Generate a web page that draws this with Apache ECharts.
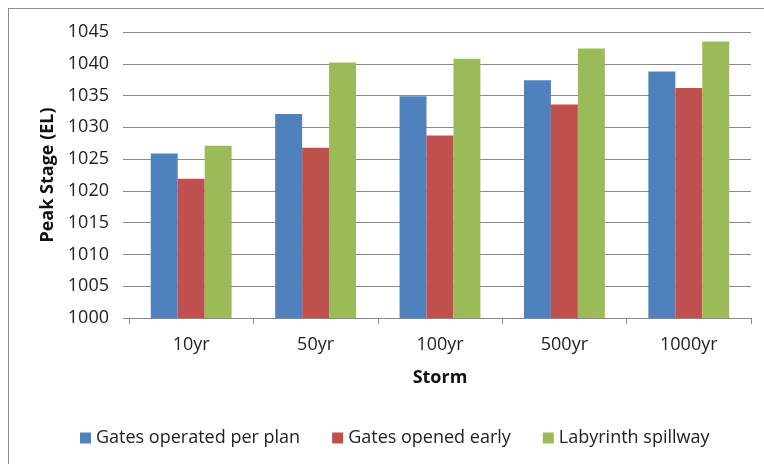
<!DOCTYPE html>
<html>
<head>
<meta charset="utf-8">
<script src="https://cdn.jsdelivr.net/npm/echarts@6/dist/echarts.min.js"></script>
<style>
  html, body { margin: 0; padding: 0; background: #fff; }
  #chart { width: 764px; height: 464px; }
</style>
</head>
<body>
<div id="chart"></div>
<script>
// Peak stage per design storm for three spillway operating scenarios
const storms = ['10yr', '50yr', '100yr', '500yr', '1000yr'];
const gatesPerPlan = [1025.9, 1032.1, 1034.9, 1037.4, 1038.8];
const gatesOpenedEarly = [1021.9, 1026.8, 1028.7, 1033.6, 1036.2];
const labyrinthSpillway = [1027.1, 1040.2, 1040.8, 1042.4, 1043.5];
const seriesNames = ['Gates operated per plan', 'Gates opened early', 'Labyrinth spillway'];
const seriesColors = ['#4F81BD', '#C0504D', '#9BBB59'];

const FONT = 'Open Sans';
const gridColor = '#8a8a8a';

const chart = echarts.init(document.getElementById('chart'), null, { renderer: 'canvas' });

const seriesData = [gatesPerPlan, gatesOpenedEarly, labyrinthSpillway];

chart.setOption({
  backgroundColor: '#fff',
  animation: false,
  textStyle: { fontFamily: FONT },
  graphic: [
    { type: 'line', shape: { x1: 8, y1: 8.5, x2: 764, y2: 8.5 }, style: { stroke: '#8c8c8c', lineWidth: 1 } },
    { type: 'line', shape: { x1: 8.5, y1: 8, x2: 8.5, y2: 464 }, style: { stroke: '#8c8c8c', lineWidth: 1 } }
  ],
  grid: { left: 129, right: 13, top: 32, bottom: 146 },
  legend: {
    data: seriesNames,
    left: 75,
    top: 424,
    itemWidth: 11,
    itemHeight: 11,
    itemGap: 32,
    icon: 'rect',
    textStyle: { fontFamily: FONT, fontSize: 18, color: '#222' }
  },
  xAxis: {
    type: 'category',
    data: storms,
    name: 'Storm',
    nameLocation: 'middle',
    nameGap: 51,
    nameTextStyle: { fontFamily: FONT, fontSize: 18, fontWeight: 'bold', color: '#111' },
    axisLine: { lineStyle: { color: gridColor, width: 1 } },
    axisTick: { show: true, length: 6, lineStyle: { color: gridColor } },
    axisLabel: { fontFamily: FONT, fontSize: 18, color: '#222', margin: 18 }
  },
  yAxis: {
    type: 'value',
    min: 1000,
    max: 1045,
    interval: 5,
    name: 'Peak Stage (EL)',
    nameLocation: 'middle',
    nameGap: 71,
    nameTextStyle: { fontFamily: FONT, fontSize: 18, fontWeight: 'bold', color: '#111' },
    axisLine: { show: false },
    axisTick: { show: true, length: 6, lineStyle: { color: gridColor } },
    axisLabel: { fontFamily: FONT, fontSize: 18, color: '#222', margin: 20, formatter: (v) => String(v) },
    splitLine: { lineStyle: { color: gridColor, width: 1 } }
  },
  series: seriesNames.map((name, i) => ({
    name,
    type: 'bar',
    data: seriesData[i],
    itemStyle: { color: seriesColors[i] },
    barGap: '0%',
    barCategoryGap: '35%'
  }))
});
</script>
</body>
</html>
